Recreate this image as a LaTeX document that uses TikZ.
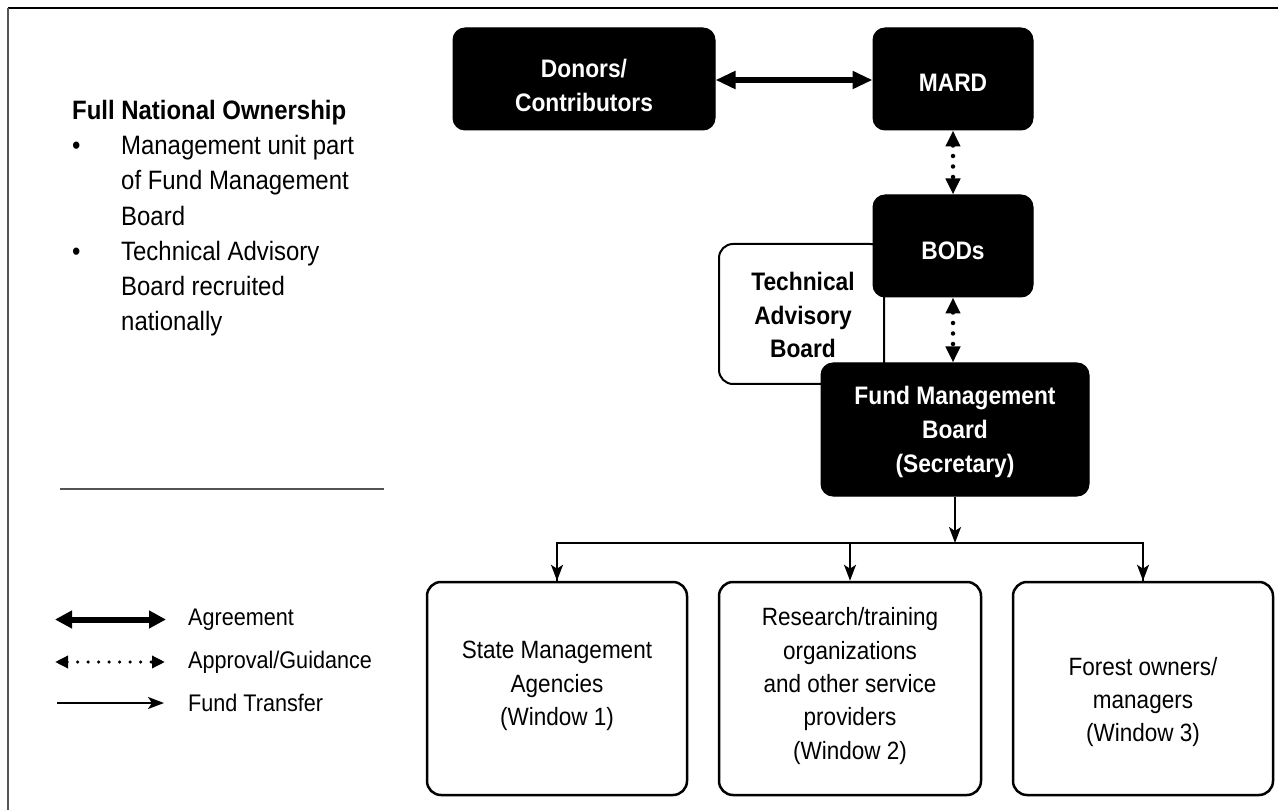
\documentclass[tikz,border=0pt]{standalone}
\usepackage{fontspec}
\setmainfont[FakeStretch=0.9]{Liberation Sans}
\usetikzlibrary{arrows.meta}

\tikzset{
  darkbox/.style={fill=black, draw=black, line width=1pt, rounded corners=12pt, inner sep=0pt},
  lightbox/.style={fill=white, draw=black, line width=2.5pt, rounded corners=14pt, inner sep=0pt},
  darktext/.style={text=white, font=\fontsize{25.3pt}{34pt}\selectfont\bfseries, align=center, inner sep=0pt},
  boardtext/.style={text=black, font=\fontsize{25.3pt}{33.5pt}\selectfont\bfseries, align=center, inner sep=0pt},
  wintext/.style={font=\fontsize{25pt}{33.3pt}\selectfont, align=center, inner sep=0pt},
  legtext/.style={font=\fontsize{24pt}{30pt}\selectfont, anchor=west, inner sep=0pt},
  agree/.style={line width=6pt, {Triangle[length=20pt,width=17pt]}-{Triangle[length=20pt,width=17pt]}},
  approve/.style={line width=4.5pt, dash pattern=on 0pt off 10.5pt, line cap=round,
    {Triangle[length=16pt,width=14pt]}-{Triangle[length=16pt,width=14pt]}},
  transfer/.style={line width=2pt, -{Stealth[length=16pt,width=12pt,inset=4pt]}},
}

\begin{document}
\begin{tikzpicture}[x=1pt, y=-1pt]
\useasboundingbox (0,0) rectangle (1278,810);

% frame edges
\draw[black, line width=2pt] (8,8) -- (1278,8);
\draw[black!67, line width=2.5pt] (8,8) -- (8,810);

% ownership notes
\node[anchor=north west, inner sep=0pt, align=left, font=\fontsize{26.6pt}{35.2pt}\selectfont] (own) at (72,100)
  {\textbf{Full National Ownership}\\
   \makebox[49pt][l]{•}Management unit part\\
   \hspace*{49pt}of Fund Management\\
   \hspace*{49pt}Board\\
   \makebox[49pt][l]{•}Technical Advisory\\
   \hspace*{49pt}Board recruited\\
   \hspace*{49pt}nationally};

% separator
\draw[black!67, line width=1.8pt] (60,489) -- (384,489);

% boards
\node[lightbox, line width=2pt, minimum width=165pt, minimum height=140pt] (tab) at (801.5,314) {};
\node[boardtext] (tabT) at (803,315) {Technical\\Advisory\\Board};

\node[darkbox, minimum width=262pt, minimum height=102pt] (donors) at (584,79) {};
\node[darktext] (donorsT) at (584,85) {Donors/\\Contributors};

\node[darkbox, minimum width=160pt, minimum height=102pt] (mard) at (953,79) {};
\node[darktext] (mardT) at (953,83) {MARD};

\node[darkbox, minimum width=160pt, minimum height=102pt] (bods) at (953,246) {};
\node[darktext] (bodsT) at (953,251) {BODs};

\node[darkbox, minimum width=268pt, minimum height=133pt] (fmb) at (955,429.5) {};
\node[darktext] (fmbT) at (955,432) {Fund Management\\Board\\(Secretary)};

% windows
\node[lightbox, minimum width=260pt, minimum height=213pt] (w1) at (557,688.5) {};
\node[wintext] (w1T) at (557,686) {State Management\\Agencies\\(Window 1)};

\node[lightbox, minimum width=262pt, minimum height=213pt] (w2) at (850,688.5) {};
\node[wintext] (w2T) at (850,686) {Research/training\\organizations\\and other service\\providers\\(Window 2)};

\node[lightbox, minimum width=260pt, minimum height=213pt] (w3) at (1143,688.5) {};
\node[wintext] (w3T) at (1143,702) {Forest owners/\\managers\\(Window 3)};

% connectors
\draw[agree] ([yshift=-1pt]donors.east) -- ([yshift=-1pt]mard.west);
\draw[approve] (mard.south) -- (bods.north);
\draw[approve] (bods.south) -- (bods.south |- fmb.north);

\coordinate (bus) at (955,543);
\draw[transfer] (fmb.south) -- (bus);
\draw[line width=2pt] (bus) -| (w1.north);
\draw[line width=2pt] (bus) -| (w3.north);
\draw[transfer] (w1.north |- bus) -- (w1.north);
\draw[transfer] (w2.north |- bus) -- (w2.north);
\draw[transfer] (w3.north |- bus) -- (w3.north);

% legend
\coordinate (agA) at (55,619.5);
\coordinate (agB) at (166,619.5);
\coordinate (apA) at (55,662);
\coordinate (apB) at (165,662);
\coordinate (ftA) at (57,703);
\coordinate (ftB) at (164,703);
\draw[agree, {Triangle[length=17pt,width=17pt]}-{Triangle[length=17pt,width=17pt]}] (agA) -- (agB);
\draw[approve, line width=3.5pt, {Triangle[length=13pt,width=12pt]}-{Triangle[length=13pt,width=12pt]}] (apA) -- (apB);
\draw[transfer] (ftA) -- (ftB);
\node[legtext] (agT) at (188,619.5) {Agreement};
\node[legtext] (apT) at (188,662) {Approval/Guidance};
\node[legtext] (ftT) at (188,703) {Fund Transfer};
\end{tikzpicture}
\end{document}
